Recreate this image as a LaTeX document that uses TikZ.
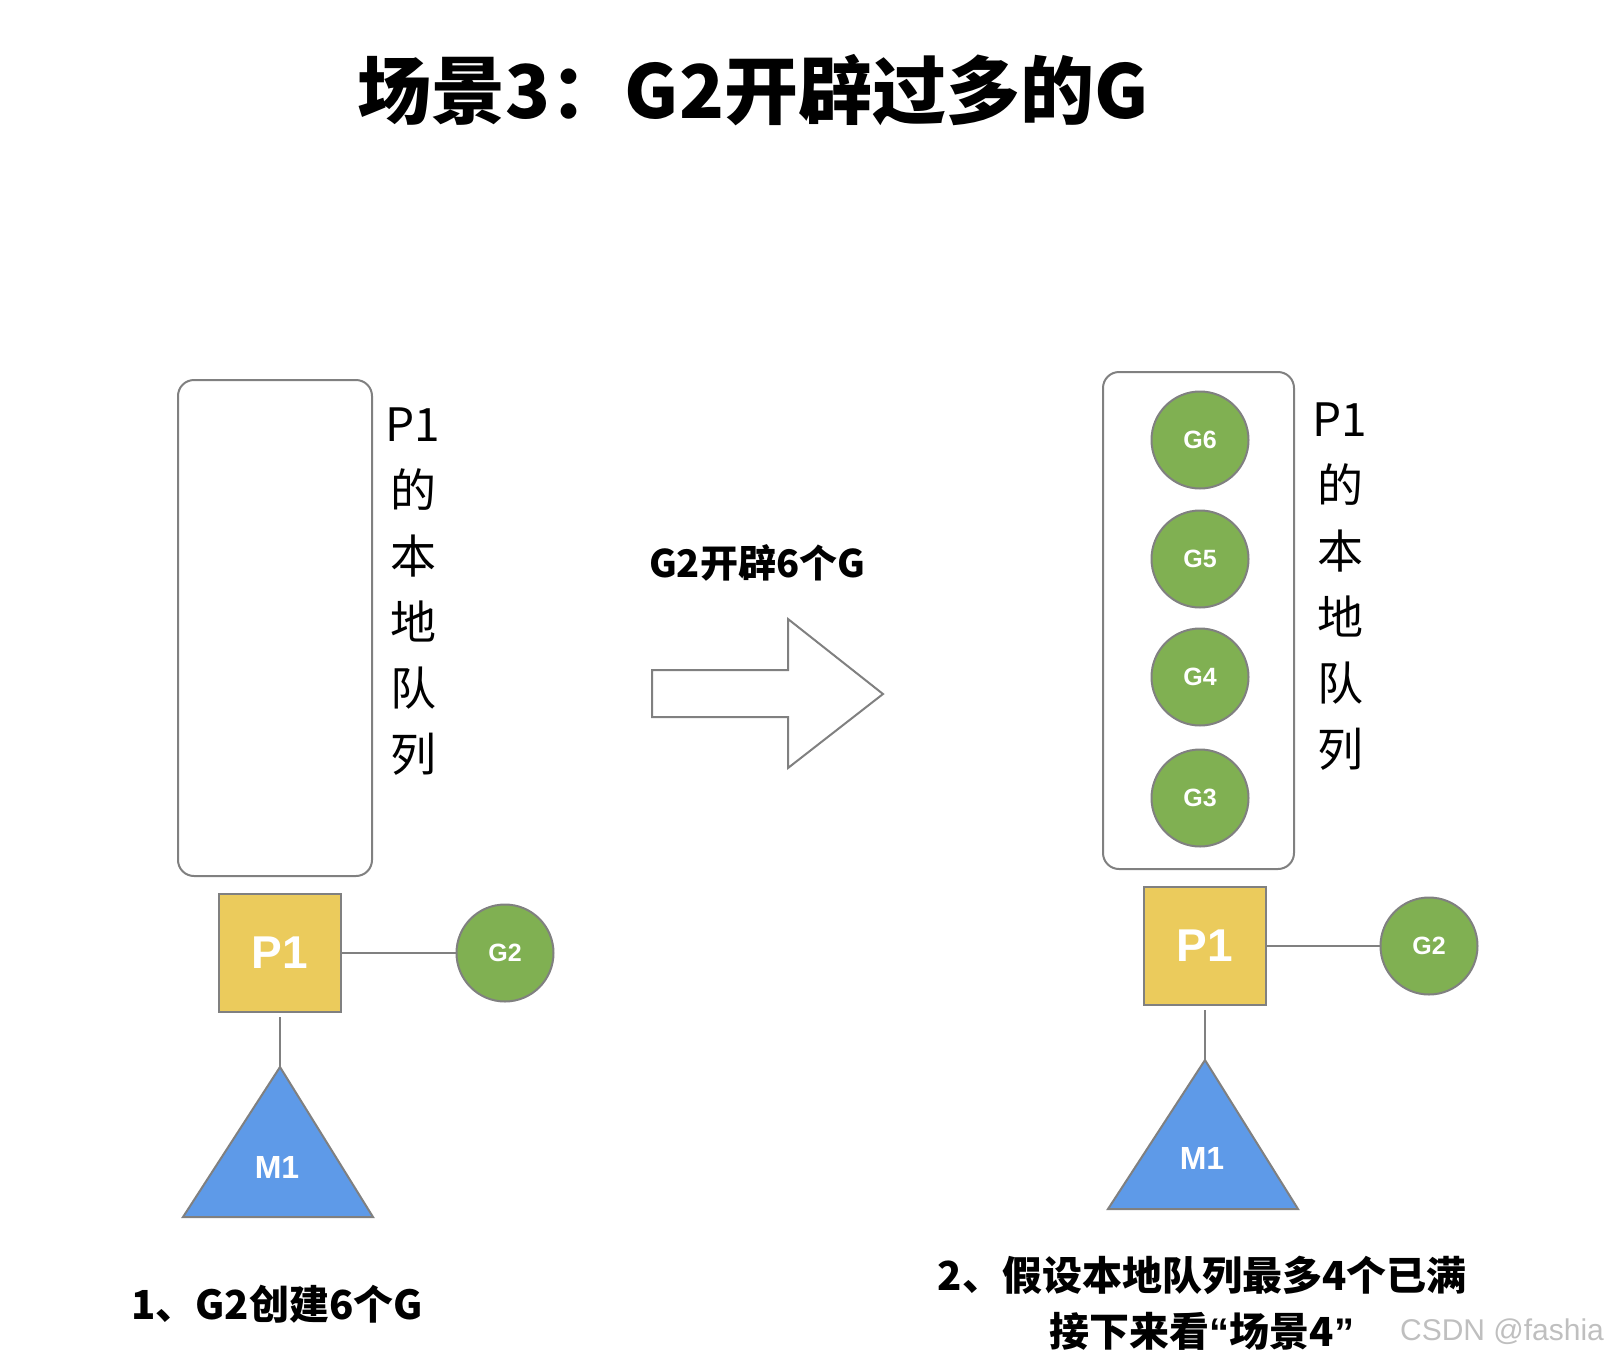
\documentclass[tikz,border=0pt]{standalone}
\usepackage{fontspec}
\setmainfont{Liberation Sans}
\newfontfamily\cjk{Noto Sans CJK SC}
\newfontfamily\latin{Liberation Sans}
\usetikzlibrary{positioning}
\definecolor{pyellow}{HTML}{EBCB5C}
\definecolor{ggreen}{HTML}{80B052}
\definecolor{mblue}{HTML}{5E9AE8}
\definecolor{edgegray}{HTML}{808080}

\begin{document}
\begin{tikzpicture}[x=1pt,y=-1pt,
    pbox/.style={draw=edgegray,line width=2pt,fill=pyellow,minimum width=122pt,minimum height=118pt,inner sep=0pt,text=white,font=\bfseries\fontsize{46}{46}\selectfont},
    gnode/.style={circle,draw=edgegray,line width=2pt,fill=ggreen,minimum size=97pt,inner sep=0pt,text=white,font=\bfseries\fontsize{25}{25}\selectfont},
    queue/.style={draw=edgegray,line width=2pt,rounded corners=16pt},
    link/.style={draw=edgegray,line width=2pt},
    mtri/.style={draw=edgegray,line width=2pt,fill=mblue},
    mlabel/.style={text=white,font=\bfseries\fontsize{32}{32}\selectfont},
    vlabel/.style={align=center,font=\cjk\fontsize{46}{66}\selectfont},
    caption/.style={align=center,font=\cjk\bfseries\fontsize{40}{56}\selectfont}]
    \useasboundingbox (0,0) rectangle (1606,1360);

    % Titel
    \node[font=\cjk\bfseries\fontsize{74}{74}\selectfont] (title) at (753,90) {场景3：G2开辟过多的G};

    % links: leere lokale Queue
    \draw[queue] (178,380) rectangle (372,876);
    \node[vlabel] (lqtext) at (413,592) {P1\\的\\本\\地\\队\\列};
    \node[pbox] (lp1) at (280,953) {P1};
    \node[gnode] (lg2) at (505,953) {G2};
    \coordinate (lmtop) at (280,1067);
    \draw[mtri] (lmtop) -- (373,1217) -- (183,1217) -- cycle;
    \node[mlabel] (lm1) at (277,1167) {M1};
    \draw[link] (lp1) -- (lg2);
    \draw[link] (lp1.south) ++(0,4) -- (lmtop);
    \node[caption] (lcap) at (277,1304) {1、G2创建6个G};

    % Pfeil
    \node[font=\cjk\bfseries\fontsize{38}{38}\selectfont] (step) at (757,563) {G2开辟6个G};
    \draw[link,fill=white] (652,670) -- (788,670) -- (788,619) -- (883,694)
                           -- (788,768) -- (788,717) -- (652,717) -- cycle;

    % rechts: volle lokale Queue
    \draw[queue] (1103,372) rectangle (1294,869);
    \node[gnode] (g6) at (1200,440) {G6};
    \node[gnode] (g5) at (1200,559) {G5};
    \node[gnode] (g4) at (1200,677) {G4};
    \node[gnode] (g3) at (1200,798) {G3};
    \node[vlabel] (rqtext) at (1340,587) {P1\\的\\本\\地\\队\\列};
    \node[pbox] (rp1) at (1205,946) {P1};
    \node[gnode] (rg2) at (1429,946) {G2};
    \coordinate (rmtop) at (1205,1060);
    \draw[mtri] (rmtop) -- (1298,1209) -- (1108,1209) -- cycle;
    \node[mlabel] (rm1) at (1202,1158) {M1};
    \draw[link] (rp1) -- (rg2);
    \draw[link] (rp1.south) ++(0,4) -- (rmtop);
    \node[caption] (rcap) at (1202,1303) {2、假设本地队列最多4个已满\\接下来看{\latin “}场景4{\latin ”}};

    \node[text=black!25,font=\fontsize{30}{30}\selectfont] (mark) at (1502,1332) {CSDN @fashia};
\end{tikzpicture}
\end{document}
